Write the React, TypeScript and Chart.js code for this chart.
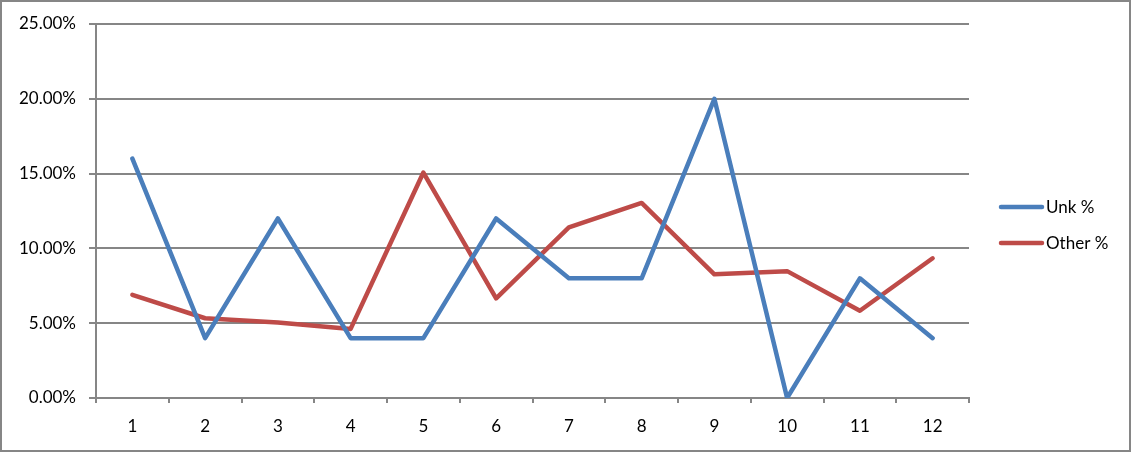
import React, { useEffect, useRef } from "react";
import { Chart, registerables } from "chart.js";

Chart.register(...registerables);

const categories = ["1", "2", "3", "4", "5", "6", "7", "8", "9", "10", "11", "12"];
const unkPct = [0.16, 0.04, 0.12, 0.04, 0.04, 0.12, 0.08, 0.08, 0.2, 0.0, 0.08, 0.04];
const otherPct = [0.069, 0.0533, 0.0505, 0.0462, 0.1507, 0.0666, 0.1141, 0.1304, 0.0827, 0.0848, 0.0583, 0.0934];
const seriesNames = ["Unk %", "Other %"];

const FONT = "Lato";
const GRID = "#868686";
const FONT_SIZE = 17;

const frameAndLegend = {
  id: "frameAndLegend",
  beforeDraw(chart: any) {
    const ctx = chart.ctx;
    ctx.save();
    ctx.fillStyle = "#ffffff";
    ctx.fillRect(0, 0, chart.width, chart.height);
    ctx.restore();
  },
  afterDraw(chart: any) {
    const ctx = chart.ctx;
    ctx.save();
    ctx.strokeStyle = GRID;
    ctx.lineWidth = 2;
    ctx.strokeRect(1, 1, chart.width - 2, chart.height - 2);
    chart.data.datasets.forEach((ds: any, i: number) => {
      const y = 207 + i * 36;
      ctx.strokeStyle = ds.borderColor;
      ctx.lineWidth = 4.5;
      ctx.lineCap = "round";
      ctx.beginPath();
      ctx.moveTo(1001, y);
      ctx.lineTo(1042, y);
      ctx.stroke();
      ctx.fillStyle = "#000000";
      ctx.font = `${FONT_SIZE}px ${FONT}`;
      ctx.textBaseline = "middle";
      ctx.textAlign = "left";
      ctx.fillText(ds.label, 1046, y + 1);
    });
    ctx.restore();
  },
};

export default function App() {
  const ref = useRef<HTMLCanvasElement>(null);
  useEffect(() => {
    document.body.style.margin = "0";
    const chart = new Chart(ref.current as HTMLCanvasElement, {
      type: "line",
      data: {
        labels: categories,
        datasets: [
          {
            label: seriesNames[0],
            data: unkPct,
            borderColor: "#4A7EBB",
            backgroundColor: "#4A7EBB",
            borderWidth: 4.5,
            pointRadius: 0,
            tension: 0,
            borderJoinStyle: "round",
            borderCapStyle: "round",
          },
          {
            label: seriesNames[1],
            data: otherPct,
            borderColor: "#BE4B48",
            backgroundColor: "#BE4B48",
            borderWidth: 4.5,
            pointRadius: 0,
            tension: 0,
            borderJoinStyle: "round",
            borderCapStyle: "round",
          },
        ],
      },
      options: {
        animation: false,
        responsive: false,
        layout: { padding: { left: 0, right: 162, top: 24, bottom: 0 } },
        plugins: { legend: { display: false }, tooltip: { enabled: false } },
        scales: {
          x: {
            type: "category",
            offset: true,
            grid: {
              offset: true,
              drawOnChartArea: false,
              drawTicks: true,
              tickLength: 5,
              color: GRID,
              lineWidth: 2,
            },
            border: { display: true, color: GRID, width: 2 },
            ticks: {
              color: "#000000",
              font: { family: FONT, size: FONT_SIZE },
              padding: 13,
              maxRotation: 0,
              autoSkip: false,
            },
            afterFit: (scale: any) => {
              scale.height = 54;
            },
          },
          y: {
            min: 0,
            max: 0.25,
            grid: { color: GRID, lineWidth: 2, tickLength: 7 },
            border: { display: true, color: GRID, width: 2 },
            ticks: {
              stepSize: 0.05,
              color: "#000000",
              font: { family: FONT, size: FONT_SIZE },
              padding: 13,
              callback: (v: any) => (Number(v) * 100).toFixed(2) + "%",
            },
            afterFit: (scale: any) => {
              scale.width = 96;
            },
          },
        },
      },
      plugins: [frameAndLegend],
    });
    return () => chart.destroy();
  }, []);
  return (
    <div style={{ width: 1131, height: 452 }}>
      <canvas ref={ref} width={1131} height={452} style={{ display: "block" }} />
    </div>
  );
}
